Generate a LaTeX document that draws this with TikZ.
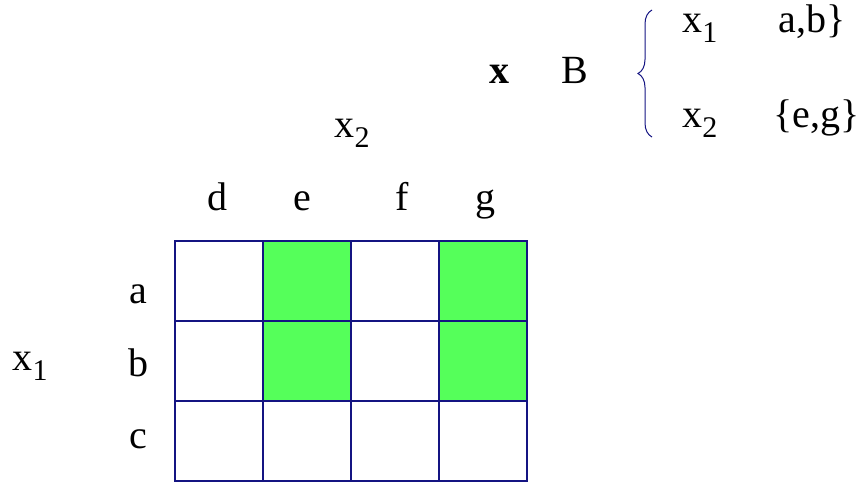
\documentclass[tikz,border=0pt]{standalone}
\usepackage{fontspec}
\setmainfont{Liberation Serif}
\usetikzlibrary{decorations.pathreplacing}
\definecolor{cellgreen}{RGB}{85,255,90}
\definecolor{gridblue}{RGB}{20,20,130}
\newcommand{\lowsub}[1]{\raisebox{-5pt}{\fontsize{15}{18}\selectfont#1}}

\begin{document}
\begin{tikzpicture}[x=0.5pt, y=-0.5pt,
    lbl/.style={anchor=base, inner sep=0pt, font=\fontsize{20}{24}\selectfont},
    cell/.style={draw=gridblue, line width=0.8pt}]
  \useasboundingbox (0,0) rectangle (862,483);
  % table over x1 (rows) and x2 (columns)
  \foreach \c in {1,3} \foreach \r in {0,1}
    \fill[cellgreen] ({175+88*\c},{241+80*\r}) rectangle +(88,80);
  \foreach \c in {0,...,3} \foreach \r in {0,...,2}
    \draw[cell] ({175+88*\c},{241+80*\r}) rectangle +(88,80);
  % column and row labels
  \node[lbl] (coltitle) at (352,137) {x\lowsub{2}};
  \node[lbl] (cold) at (217,210) {d};
  \node[lbl] (cole) at (302,210) {e};
  \node[lbl] (colf) at (402,210) {f};
  \node[lbl] (colg) at (485,210) {g};
  \node[lbl] (rowtitle) at (30,370) {x\lowsub{1}};
  \node[lbl] (rowa) at (138,303) {a};
  \node[lbl] (rowb) at (138,376) {b};
  \node[lbl] (rowc) at (138,448) {c};
  % the set B
  \node[lbl] (vecx) at (499,83) {\textbf{x}};
  \node[lbl] (setb) at (575,83) {B};
  \draw[gridblue, line width=0.5pt, decorate, decoration={brace, amplitude=7pt}]
    (652,137) -- (652,10);
  \node[lbl, anchor=base west] (bx1) at (682,32) {x\lowsub{1}};
  \node[lbl, anchor=base east] (bab) at (846,32) {a,b\}};
  \node[lbl, anchor=base west] (bx2) at (682,127) {x\lowsub{2}};
  \node[lbl, anchor=base east] (beg) at (860,127) {\{e,g\}};
\end{tikzpicture}
\end{document}
